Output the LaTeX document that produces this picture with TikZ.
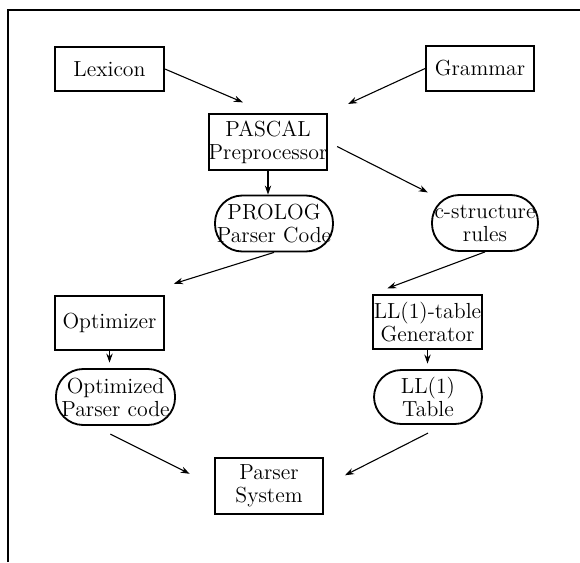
\documentclass[tikz,border=0pt]{standalone}
\usepackage{tikz}
\usetikzlibrary{arrows.meta}

\begin{document}
\begin{tikzpicture}[x=0.55pt,y=-0.55pt,
    box/.style={draw, line width=1pt, inner sep=0pt, align=center,
                font=\fontsize{12}{12.6}\selectfont},
    blob/.style={box, rounded corners=15pt},
    arr/.style={-{Stealth[length=5pt,width=3.5pt]}, line width=0.6pt}]

    % Page frame (only top and left edges in view)
    \useasboundingbox (0,0) rectangle (580,562);
    \draw[line width=0.9pt] (8,562) -- (8,10) -- (580,10);

    % Inputs
    \node[box, minimum width=60pt, minimum height=24.2pt] (lexicon) at (109.5,69) {Lexicon};
    \node[box, minimum width=59.4pt, minimum height=24.8pt] (grammar) at (480,68.5) {Grammar};

    % Preprocessor and its outputs
    \node[box, minimum width=64.9pt, minimum height=30.8pt] (pascal) at (268,142) {PASCAL\\Preprocessor};
    \node[blob, minimum width=64.9pt, minimum height=30.8pt] (prolog) at (274,223.5) {PROLOG\\Parser Code};
    \node[blob, minimum width=58.3pt, minimum height=30.8pt] (cstruct) at (485,223) {c-structure\\rules};

    % Left branch
    \node[box, minimum width=60pt, minimum height=29.7pt] (optimizer) at (109.5,323) {Optimizer};
    \node[blob, minimum width=65.5pt, minimum height=30.8pt] (optimized) at (115.5,397) {Optimized\\Parser code};

    % Right branch
    \node[box, minimum width=60pt, minimum height=29.7pt] (lltable) at (427.5,322) {LL(1)-table\\Generator};
    \node[blob, minimum width=59.4pt, minimum height=29.7pt] (lltab) at (428,397) {LL(1)\\Table};

    % Result
    \node[box, minimum width=59.4pt, minimum height=30.8pt] (parser) at (269,486) {Parser\\System};

    % Connectors
    \draw[arr, shorten >=15pt] (lexicon.east) -- (pascal.north);
    \draw[arr, shorten >=12pt] (grammar.west) -- (pascal.north east);
    \draw[arr] (pascal.south) -- (pascal.south |- prolog.north);
    \draw[arr, shorten <=5.5pt, shorten >=2pt] (pascal.east) -- (cstruct.north west);
    \draw[arr, shorten >=21pt] (prolog.south) -- (optimizer.45);
    \draw[arr, shorten >=9pt] (cstruct.south) -- (lltable.north west);
    \draw[arr, shorten >=3pt] (optimizer.south) -- (optimizer.south |- optimized.north);
    \draw[arr, shorten >=3pt] (lltable.south) -- (lltable.south |- lltab.north);
    \draw[arr, shorten >=15pt] ([yshift=-4.5pt]optimized.-100) -- (parser.west);
    \draw[arr, shorten >=13pt] ([yshift=-4.5pt]lltab.south) -- (parser.east);
\end{tikzpicture}
\end{document}
